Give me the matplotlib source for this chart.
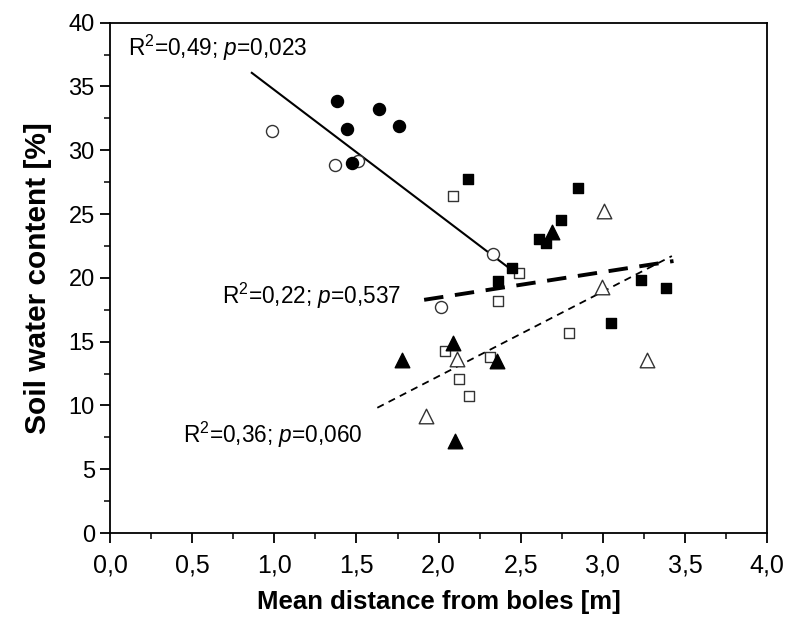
import matplotlib.pyplot as plt
from matplotlib.ticker import MultipleLocator, FuncFormatter

plt.rcParams['font.family'] = ['Liberation Sans', 'DejaVu Sans']
plt.rcParams['mathtext.fontset'] = 'custom'
plt.rcParams['mathtext.rm'] = 'Liberation Sans'
plt.rcParams['mathtext.it'] = 'Liberation Sans:italic'

# filled circles
fc_x = [1.38, 1.445, 1.475, 1.64, 1.758]
fc_y = [33.86, 31.64, 29.02, 33.23, 31.87]
# open circles
oc_x = [0.988, 1.368, 1.512, 2.33, 2.013]
oc_y = [31.5, 28.82, 29.18, 21.89, 17.73]
# filled squares
fs_x = [2.181, 2.847, 2.748, 2.614, 2.653, 2.449, 2.364, 3.233, 3.383, 3.048]
fs_y = [27.72, 27.04, 24.53, 23.02, 22.70, 20.74, 19.75, 19.83, 19.18, 16.48]
# open squares
os_x = [2.086, 2.49, 2.364, 2.796, 2.041, 2.315, 2.127, 2.186]
os_y = [26.43, 20.35, 18.18, 15.67, 14.24, 13.77, 12.05, 10.76]
# filled triangles
ft_x = [2.693, 2.09, 1.78, 2.354, 2.10]
ft_y = [23.61, 14.87, 13.56, 13.48, 7.21]
# open triangles
ot_x = [3.009, 2.997, 3.268, 2.114, 1.922]
ot_y = [25.24, 19.30, 13.56, 13.61, 9.19]

# regression lines (end points)
fit1_x = [0.863, 2.419]
fit1_y = [36.07, 20.87]
fit2_x = [1.912, 3.43]
fit2_y = [18.28, 21.32]
fit3_x = [1.627, 3.42]
fit3_y = [9.82, 21.71]

labels = [r"R$^2$=0,49; $p$=0,023", r"R$^2$=0,22; $p$=0,537", r"R$^2$=0,36; $p$=0,060"]
label_x = [0.11, 0.682, 0.446]
label_y = [38.0, 18.57, 7.68]

fig = plt.figure(figsize=(7.86, 6.22), dpi=100)
ax = fig.add_axes([0.140, 0.143, 0.836, 0.8205])

ax.plot(fit1_x, fit1_y, color='black', lw=1.5)
ax.plot(fit2_x, fit2_y, color='black', lw=2.8, dashes=(5, 3))
ax.plot(fit3_x, fit3_y, color='black', lw=1.3, dashes=(4, 3))

ax.scatter(oc_x, oc_y, s=75, marker='o', facecolor='white', edgecolor='#333333', lw=1.0, zorder=3)
ax.scatter(fc_x, fc_y, s=75, marker='o', facecolor='black', edgecolor='black', zorder=3)
ax.scatter(os_x, os_y, s=60, marker='s', facecolor='white', edgecolor='#333333', lw=1.0, zorder=3)
ax.scatter(fs_x, fs_y, s=60, marker='s', facecolor='black', edgecolor='black', zorder=3)
ax.scatter(ot_x, ot_y, s=110, marker='^', facecolor='white', edgecolor='#333333', lw=1.0, zorder=3)
ax.scatter(ft_x, ft_y, s=110, marker='^', facecolor='black', edgecolor='black', zorder=3)

for t, x, y in zip(labels, label_x, label_y):
    ax.text(x, y, t, fontsize=16.3, va='center', ha='left')

ax.set_xlim(0, 4)
ax.set_ylim(0, 40)
ax.xaxis.set_major_locator(MultipleLocator(0.5))
ax.xaxis.set_minor_locator(MultipleLocator(0.25))
ax.yaxis.set_major_locator(MultipleLocator(5))
ax.yaxis.set_minor_locator(MultipleLocator(2.5))
ax.xaxis.set_major_formatter(FuncFormatter(lambda v, p: f"{v:.1f}".replace('.', ',')))
ax.tick_params(which='major', direction='out', length=7, width=1.3)
ax.tick_params(which='minor', direction='out', length=4, width=1.1)
ax.tick_params(axis='x', which='major', labelsize=18, pad=8)
ax.tick_params(axis='y', which='major', labelsize=17, pad=4)
for s in ax.spines.values():
    s.set_linewidth(1.3)

ax.set_xlabel("Mean distance from boles [m]", fontsize=18.5, fontweight='bold', labelpad=9)
ax.set_ylabel("Soil water content [%]", fontsize=21.5, fontweight='bold', labelpad=12)

fig.savefig("out.png", dpi=100)
